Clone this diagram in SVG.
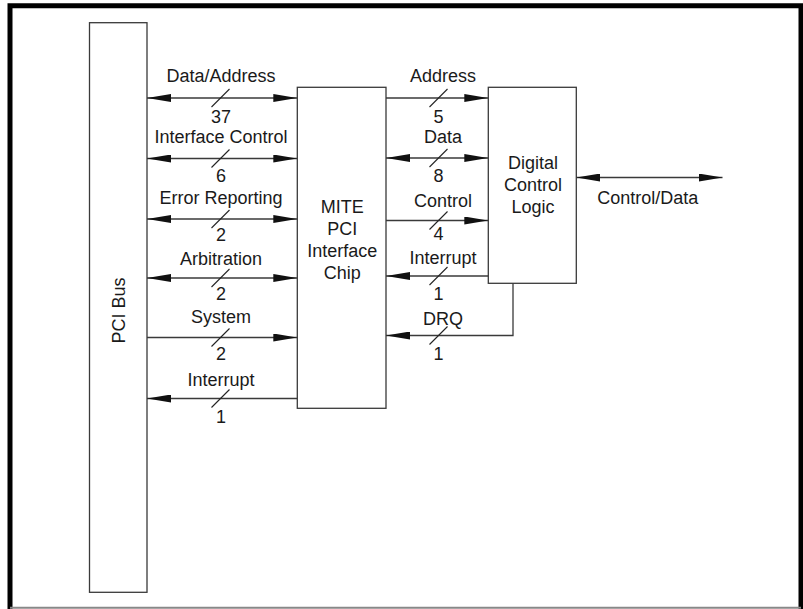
<svg xmlns="http://www.w3.org/2000/svg" width="803" height="609" viewBox="0 0 803 609">
<defs>
<style>
.box{fill:#fff;stroke:#3a3a3a;stroke-width:1.3}
.ln{fill:none;stroke:#3a3a3a;stroke-width:1.3}
.sl{stroke:#222;stroke-width:1.1}
text{font-family:"Liberation Sans",Arial,sans-serif;font-size:18px;fill:#1a1a1a;text-anchor:middle}
</style>
<marker id="ah" viewBox="0 0 24 8" markerWidth="24" markerHeight="8" refX="24" refY="4" orient="auto-start-reverse" markerUnits="userSpaceOnUse">
<path d="M0,0 L24,4 L0,8 Z" fill="#111"/>
</marker>
</defs>
<rect width="803" height="609" fill="#fff"/>
<g id="frame">
<path d="M10,609 L10,5.8 L801,5.8 L801,609" fill="none" stroke="#000" stroke-width="5"/>
<line x1="10" y1="607.8" x2="801" y2="607.8" stroke="#888" stroke-width="2"/>
</g>
<g id="pci-bus">
<rect class="box" x="89.5" y="22.7" width="57.5" height="569.6"/>
<text transform="translate(125,310.5) rotate(-90)">PCI Bus</text>
</g>
<g id="mite">
<rect class="box" x="297.3" y="87.3" width="88.7" height="321"/>
<text x="342.3" y="213.3">MITE</text>
<text x="342.3" y="235">PCI</text>
<text x="342.3" y="256.7">Interface</text>
<text x="342.3" y="279">Chip</text>
</g>
<g id="dcl">
<rect class="box" x="488.3" y="87.3" width="88" height="196"/>
<text x="533" y="169">Digital</text>
<text x="533" y="191">Control</text>
<text x="533" y="213">Logic</text>
</g>
<g id="connectors">
<line class="ln" x1="147" y1="98" x2="297.3" y2="98" marker-start="url(#ah)" marker-end="url(#ah)"/>
<line class="ln" x1="147" y1="158.5" x2="297.3" y2="158.5" marker-start="url(#ah)" marker-end="url(#ah)"/>
<line class="ln" x1="147" y1="219" x2="297.3" y2="219" marker-start="url(#ah)" marker-end="url(#ah)"/>
<line class="ln" x1="147" y1="278" x2="297.3" y2="278" marker-start="url(#ah)" marker-end="url(#ah)"/>
<line class="ln" x1="147" y1="337.5" x2="297.3" y2="337.5" marker-end="url(#ah)"/>
<line class="ln" x1="297.3" y1="398.5" x2="147" y2="398.5" marker-end="url(#ah)"/>
<line class="ln" x1="386" y1="98" x2="488.3" y2="98" marker-end="url(#ah)"/>
<line class="ln" x1="386" y1="158" x2="488.3" y2="158" marker-start="url(#ah)" marker-end="url(#ah)"/>
<line class="ln" x1="386" y1="220.5" x2="488.3" y2="220.5" marker-end="url(#ah)"/>
<line class="ln" x1="488.3" y1="276" x2="386" y2="276" marker-end="url(#ah)"/>
<polyline class="ln" points="513,283.3 513,335.5 386,335.5" marker-end="url(#ah)"/>
<line class="ln" x1="576.3" y1="177.5" x2="722.5" y2="177.5" marker-start="url(#ah)" marker-end="url(#ah)"/>
<g class="sl">
<line x1="211.5" y1="107" x2="229.5" y2="89"/>
<line x1="211.5" y1="167.5" x2="229.5" y2="149.5"/>
<line x1="211.5" y1="228" x2="229.5" y2="210"/>
<line x1="211.5" y1="287" x2="229.5" y2="269"/>
<line x1="211.5" y1="346.5" x2="229.5" y2="328.5"/>
<line x1="211.5" y1="407.5" x2="229.5" y2="389.5"/>
<line x1="429.5" y1="107" x2="447.5" y2="89"/>
<line x1="429.5" y1="167" x2="447.5" y2="149"/>
<line x1="429.5" y1="229.5" x2="447.5" y2="211.5"/>
<line x1="429.5" y1="285" x2="447.5" y2="267"/>
<line x1="429.5" y1="344.5" x2="447.5" y2="326.5"/>
</g>
</g>
<g id="labels">
<text x="221" y="81.7">Data/Address</text>
<text x="221" y="122.7">37</text>
<text x="221" y="143.3">Interface Control</text>
<text x="221" y="181.7">6</text>
<text x="221" y="204">Error Reporting</text>
<text x="221" y="240.7">2</text>
<text x="221" y="265">Arbitration</text>
<text x="221" y="300">2</text>
<text x="221" y="322.7">System</text>
<text x="221" y="360">2</text>
<text x="221" y="385.7">Interrupt</text>
<text x="221" y="423.3">1</text>
<text x="443" y="81.7">Address</text>
<text x="438.5" y="122.7">5</text>
<text x="443" y="143.3">Data</text>
<text x="438.5" y="182">8</text>
<text x="443" y="206.7">Control</text>
<text x="438.5" y="240.3">4</text>
<text x="443" y="264">Interrupt</text>
<text x="438.5" y="300">1</text>
<text x="443" y="325">DRQ</text>
<text x="438.5" y="360">1</text>
<text x="647.7" y="204.3">Control/Data</text>
</g>
</svg>
